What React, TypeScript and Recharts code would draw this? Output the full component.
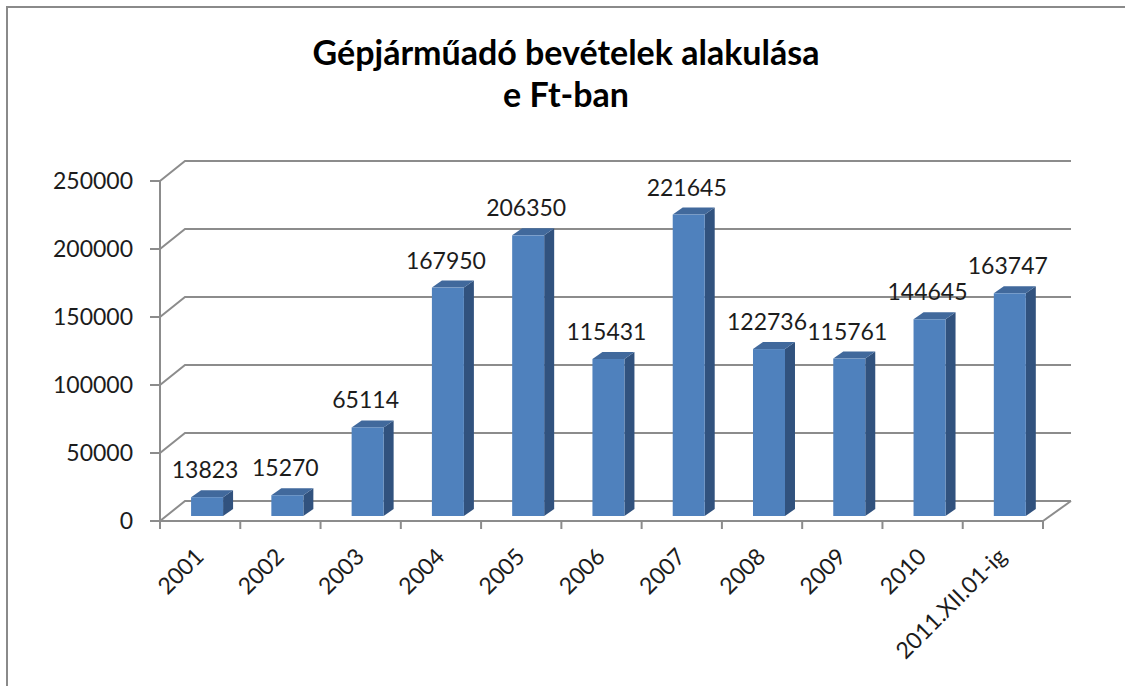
import React from 'react';
import { BarChart, Bar, XAxis, YAxis, CartesianGrid, LabelList } from 'recharts';

const categories = ['2001', '2002', '2003', '2004', '2005', '2006', '2007', '2008', '2009', '2010', '2011.XII.01-ig'];
const revenues = [13823, 15270, 65114, 167950, 206350, 115431, 221645, 122736, 115761, 144645, 163747];
const yTicks = [0, 50000, 100000, 150000, 200000, 250000];
const titleLines = ['Gépjárműadó bevételek alakulása', 'e Ft-ban'];

const data = categories.map((name, i) => ({ name, value: revenues[i] }));

const W = 1125;
const H = 686;
const MARGIN = { top: 181, right: 82, bottom: 0, left: 0 };
const YAXIS_W = 160;
const XAXIS_H = 165;
const PLOT_W = W - MARGIN.left - MARGIN.right - YAXIS_W;
const BAND = PLOT_W / categories.length;
const DEPTH_X = 25;
const DEPTH_X_RIGHT = 28;
const DEPTH_Y = 20;
const GRID = '#8c8c8c';
const TEXT = '#1c1c1c';
const FRONT = '#4f81bd';
const SIDE = '#31527e';
const TOP = '#41699c';
const FONT = "Lato, 'Open Sans', sans-serif";
const FS = 23;

const gridLine = (p: any) => {
  const { x1, y1, x2, index } = p;
  const isFloor = Math.abs(y1 - (H - XAXIS_H)) < 1.5;
  return (
    <g key={`grid-${index}-${y1}`}>
      <polyline
        points={`${x1},${y1} ${x1 + DEPTH_X},${y1 - DEPTH_Y} ${x2 + DEPTH_X_RIGHT},${y1 - DEPTH_Y}`}
        fill="none"
        stroke={GRID}
        strokeWidth={2}
      />
      {isFloor && (
        <line x1={x2} y1={y1} x2={x2 + DEPTH_X_RIGHT} y2={y1 - DEPTH_Y} stroke={GRID} strokeWidth={2} />
      )}
    </g>
  );
};

const Bar3D = (p: any) => {
  const { x, y, width: w, height: h } = p;
  if (x == null || y == null || w == null || h == null) return null;
  const fx = x + 7;
  const fy = y - 5;
  const by = y + h - 5;
  const dx = 10;
  const dy = 7;
  return (
    <g>
      <polygon points={`${fx + w},${fy} ${fx + w + dx},${fy - dy} ${fx + w + dx},${by - dy} ${fx + w},${by}`} fill={SIDE} />
      <polygon points={`${fx},${fy} ${fx + dx},${fy - dy} ${fx + w + dx},${fy - dy} ${fx + w},${fy}`} fill={TOP} />
      <rect x={fx} y={fy} width={w} height={h} fill={FRONT} />
    </g>
  );
};

const renderLabel = (p: any) => {
  const { x, y, width, value } = p;
  return (
    <text
      x={x + 7 + width / 2 - 2}
      y={y - 5 - 19}
      textAnchor="middle"
      fontSize={FS}
      fontFamily={FONT}
      fill={TEXT}
    >
      {value}
    </text>
  );
};

const XTick = (p: any) => {
  const { x, y, payload, index } = p;
  const half = BAND / 2;
  const tx = x + 5;
  const ty = y + 37;
  return (
    <g>
      <line x1={x - half} y1={y} x2={x - half} y2={y + 8} stroke={GRID} strokeWidth={2} />
      {index === categories.length - 1 && (
        <line x1={x + half} y1={y} x2={x + half} y2={y + 8} stroke={GRID} strokeWidth={2} />
      )}
      <text
        x={tx}
        y={ty}
        transform={`rotate(-45, ${tx}, ${ty})`}
        textAnchor="end"
        fontSize={FS}
        fontFamily={FONT}
        fill={TEXT}
      >
        {payload.value}
      </text>
    </g>
  );
};

export default function App() {
  return (
    <div style={{ position: 'absolute', left: 0, top: 0, width: W, height: H, background: '#fff', overflow: 'hidden' }}>
      <BarChart width={W} height={H} data={data} margin={MARGIN} barCategoryGap="30%">
        <CartesianGrid vertical={false} horizontal={gridLine} />
        <XAxis
          dataKey="name"
          height={XAXIS_H}
          interval={0}
          tickSize={0}
          tickMargin={0}
          tickLine={false}
          tick={<XTick />}
          axisLine={{ stroke: GRID, strokeWidth: 2 }}
        />
        <YAxis
          width={YAXIS_W}
          domain={[0, 250000]}
          ticks={yTicks}
          interval={0}
          tickSize={10}
          tickMargin={17}
          tick={{ fontSize: FS, fill: TEXT, fontFamily: FONT }}
          axisLine={{ stroke: GRID, strokeWidth: 2 }}
          tickLine={{ stroke: GRID, strokeWidth: 2 }}
        />
        <Bar dataKey="value" shape={<Bar3D />} isAnimationActive={false}>
          <LabelList dataKey="value" content={renderLabel} />
        </Bar>
      </BarChart>
      <div
        style={{
          position: 'absolute',
          left: 6,
          top: 6,
          right: -10,
          bottom: -10,
          borderTop: '2px solid #8a8a8a',
          borderLeft: '2px solid #8a8a8a',
          pointerEvents: 'none',
        }}
      />
      <div
        style={{
          position: 'absolute',
          left: 0,
          top: 31,
          width: 1132,
          textAlign: 'center',
          fontFamily: FONT,
          fontWeight: 700,
          fontSize: 34,
          lineHeight: '42px',
          color: '#000',
        }}
      >
        {titleLines.map((t) => (
          <div key={t}>{t}</div>
        ))}
      </div>
    </div>
  );
}
